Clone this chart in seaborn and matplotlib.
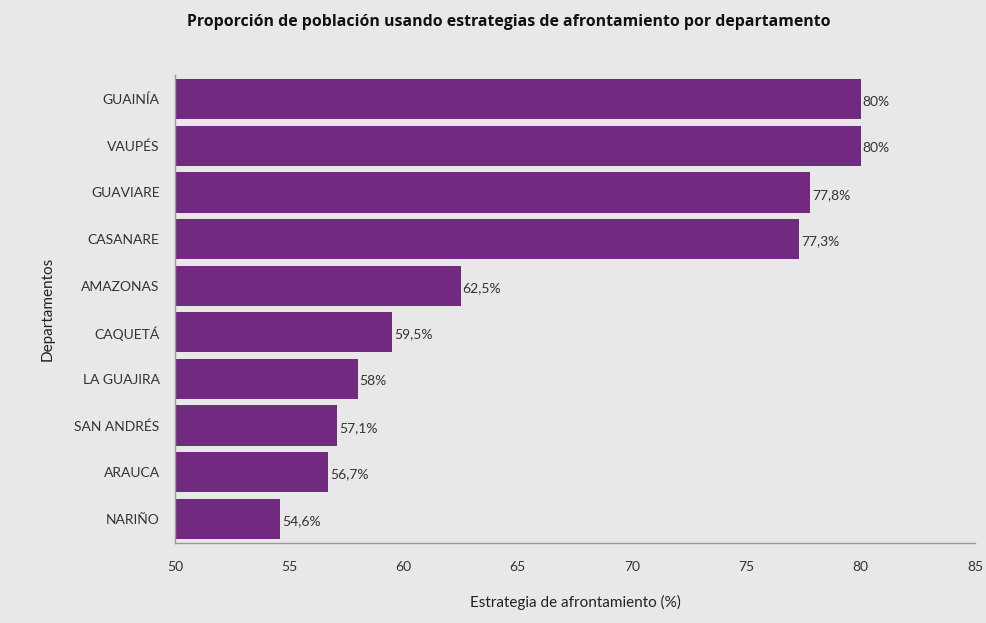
import matplotlib
matplotlib.use("Agg")
import matplotlib.pyplot as plt
import seaborn as sns
import pandas as pd

# datos
departamentos = ["GUAINÍA", "VAUPÉS", "GUAVIARE", "CASANARE", "AMAZONAS",
                 "CAQUETÁ", "LA GUAJIRA", "SAN ANDRÉS", "ARAUCA", "NARIÑO"]
porcentajes = [80, 80, 77.8, 77.3, 62.5, 59.5, 58, 57.1, 56.7, 54.6]
xticks = [50, 55, 60, 65, 70, 75, 80, 85]

df = pd.DataFrame({"departamento": departamentos, "valor": porcentajes})

sns.set_theme(style="white")
plt.rcParams["font.family"] = ["Lato", "DejaVu Sans"]

bg = "#e8e8e8"
fig = plt.figure(figsize=(9.87, 6.23), dpi=100, facecolor=bg)
ax = fig.add_axes([0.1773, 0.1284, 0.8105, 0.7512])
ax.set_facecolor(bg)

sns.barplot(data=df, x="valor", y="departamento", color="#722a80",
            saturation=1, width=0.86, ax=ax, edgecolor="none")

ax.set_xlim(50, 85)
ax.set_ylim(9.52, -0.52)
ax.set_xticks(xticks)
ax.set_xticklabels([str(t) for t in xticks])

for i, v in enumerate(porcentajes):
    txt = (f"{v:g}").replace(".", ",") + "%"
    ax.text(v + 0.08, i + 0.05, txt, va="center", ha="left",
            fontsize=10, color="#333333")

for s in ["top", "right"]:
    ax.spines[s].set_visible(False)
for s in ["left", "bottom"]:
    ax.spines[s].set_color("#9a9a9a")
    ax.spines[s].set_linewidth(1)

ax.tick_params(axis="both", which="both", length=5, color="#9a9a9a",
               labelsize=10, labelcolor="#333333", direction="out", pad=6)
ax.tick_params(axis="x", pad=8)

ax.set_xlabel("Estrategia de afrontamiento (%)", fontsize=11, color="#222222", labelpad=16)
ax.set_ylabel("Departamentos", fontsize=11, color="#222222", labelpad=14)

fig.text(0.515, 0.965, "Proporción de población usando estrategias de afrontamiento por departamento",
         ha="center", va="center", fontsize=11.4, fontweight="bold", color="#111111",
         family=["Open Sans", "DejaVu Sans"])

fig.savefig("out.png", dpi=100, facecolor=bg)
